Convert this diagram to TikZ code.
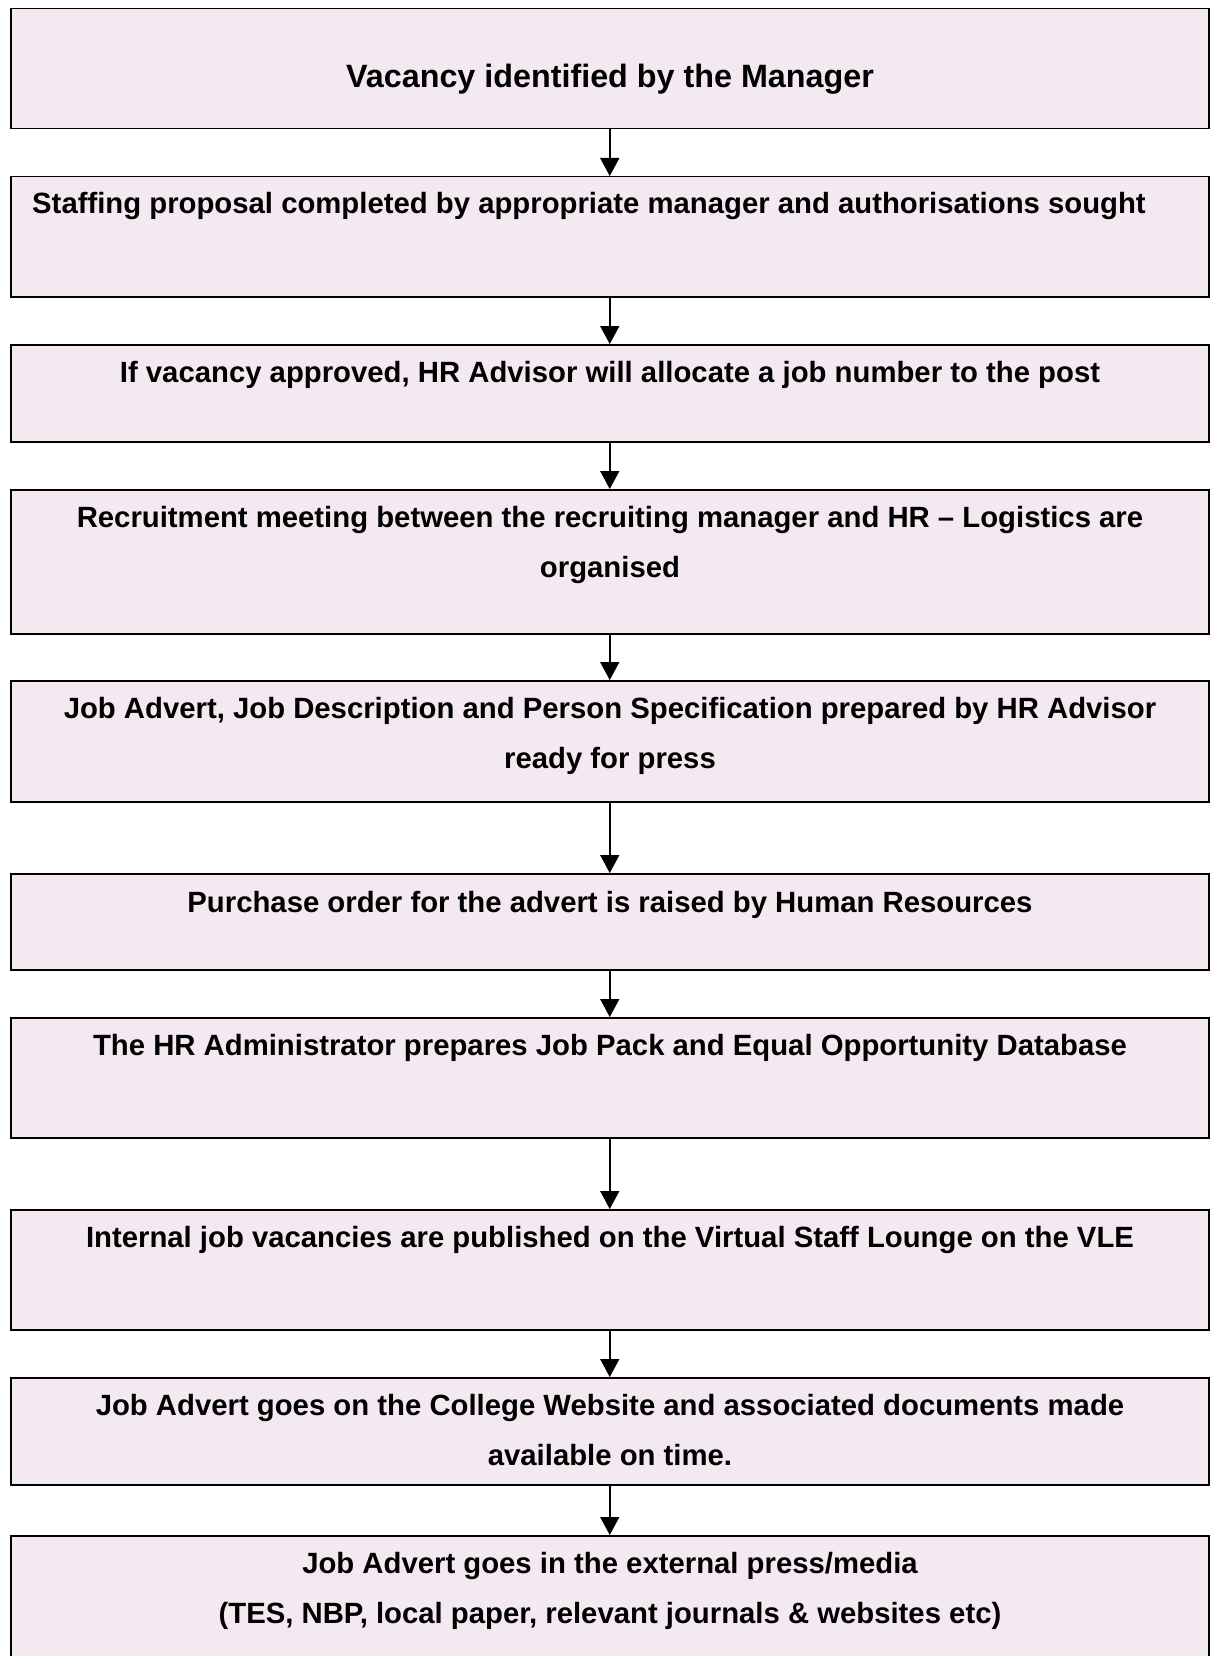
\documentclass[tikz,border=0pt]{standalone}
\usepackage{fontspec}
\setmainfont{Liberation Sans}
\usepackage{tikz}
\usetikzlibrary{arrows.meta}
\definecolor{stagefill}{RGB}{244,233,240}
\tikzset{stage/.style = {shape=rectangle,draw=black,fill=stagefill,line width=1.5pt,
    anchor=north west,minimum width=1198pt,inner sep=0pt}}
\tikzset{stagetext/.style = {anchor=base,align=center,inner sep=0pt,
    font=\fontsize{29.3}{50}\selectfont\bfseries}}
\tikzset{flow/.style = {-{Triangle[length=18pt,width=19pt]},line width=1.5pt}}

\begin{document}
\begin{tikzpicture}[x=1pt,y=-1pt]
            \useasboundingbox (0,0) rectangle (1210,1656);

            % Boxes
            \node[stage,minimum height=120pt] (vacancy) at (10,8) {};
            \node[stage,minimum height=120pt] (proposal) at (10,176) {};
            \node[stage,minimum height=97pt] (approved) at (10,344) {};
            \node[stage,minimum height=144pt] (meeting) at (10,489) {};
            \node[stage,minimum height=121pt] (advert) at (10,680) {};
            \node[stage,minimum height=96pt] (order) at (10,873) {};
            \node[stage,minimum height=120pt] (pack) at (10,1017) {};
            \node[stage,minimum height=120pt] (internal) at (10,1209) {};
            \node[stage,minimum height=107pt] (website) at (10,1377) {};
            \node[stage,minimum height=130pt] (press) at (10,1535) {};

            % Texts (two-line texts sit on their last line)
            \node[stagetext,font=\fontsize{32.3}{50}\selectfont\bfseries] (vacancytext) at (610,88) {Vacancy identified by the Manager};
            \node[stagetext,anchor=base west] (proposaltext) at (32,213) {Staffing proposal completed by appropriate manager and authorisations sought};
            \node[stagetext] (approvedtext) at (610,382) {If vacancy approved, HR Advisor will allocate a job number to the post};
            \node[stagetext] (meetingtext) at (610,577) {Recruitment meeting between the recruiting manager and HR -- Logistics are\\organised};
            \node[stagetext] (adverttext) at (610,768) {Job Advert, Job Description and Person Specification prepared by HR Advisor\\ready for press};
            \node[stagetext] (ordertext) at (610,912) {Purchase order for the advert is raised by Human Resources};
            \node[stagetext] (packtext) at (610,1055) {The HR Administrator prepares Job Pack and Equal Opportunity Database};
            \node[stagetext] (internaltext) at (610,1247) {Internal job vacancies are published on the Virtual Staff Lounge on the VLE};
            \node[stagetext] (websitetext) at (610,1465) {Job Advert goes on the College Website and associated documents made\\available on time.};
            \node[stagetext] (presstext) at (610,1623) {Job Advert goes in the external press/media\\(TES, NBP, local paper, relevant journals \& websites etc)};

            % Arrows
            \draw[flow] (vacancy) -- (proposal);
            \draw[flow] (proposal) -- (approved);
            \draw[flow] (approved) -- (meeting);
            \draw[flow] (meeting) -- (advert);
            \draw[flow] (advert) -- (order);
            \draw[flow] (order) -- (pack);
            \draw[flow] (pack) -- (internal);
            \draw[flow] (internal) -- (website);
            \draw[flow] (website) -- (press);
        \end{tikzpicture}
\end{document}
